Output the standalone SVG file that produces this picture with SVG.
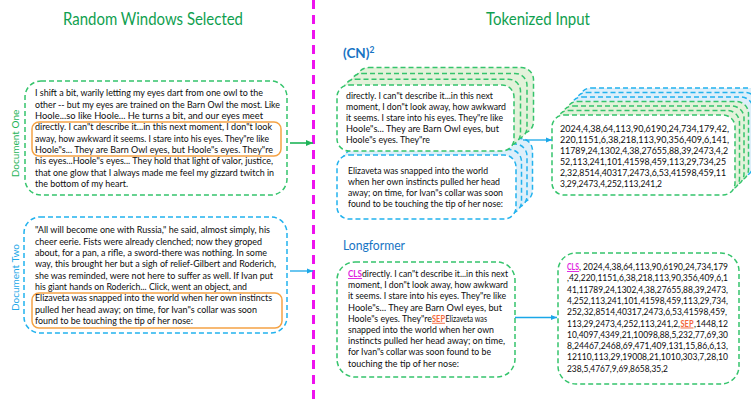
<svg xmlns="http://www.w3.org/2000/svg" width="751" height="405" viewBox="0 0 751 405">
<style>
.t{font-family:Lato,"Liberation Sans",sans-serif;font-size:9.8px;fill:#0d0d0d}
.n{font-family:Lato,"Liberation Sans",sans-serif;font-size:9.2px;fill:#0d0d0d}
.ttl{font-family:Lato,"Liberation Sans",sans-serif;font-size:17.5px;fill:#0FA04F}
.lbl{font-family:Lato,"Liberation Sans",sans-serif;font-size:13.5px;fill:#1874C4}
.doc{font-family:Lato,"Liberation Sans",sans-serif;font-size:10px}
.gb{fill:#fff;stroke:#35C46C;stroke-width:1.5;stroke-dasharray:5 3}
.gbk{fill:#E3F2DA;stroke:#35C46C;stroke-width:1.5;stroke-dasharray:5 3}
.bb{fill:#fff;stroke:#22B2EE;stroke-width:1.5;stroke-dasharray:5 3}
.bbk{fill:#DDEFFA;stroke:#22B2EE;stroke-width:1.5;stroke-dasharray:5 3}
.or{fill:none;stroke:#F5A345;stroke-width:1.5}
.cls{font-family:Lato,"Liberation Sans",sans-serif;font-size:9.3px;fill:#E01FE0;font-weight:bold;text-decoration:underline}
.sep{font-family:Lato,"Liberation Sans",sans-serif;font-size:9.3px;fill:#F2683C;font-weight:bold;text-decoration:underline}
.ag{stroke:#1FB458;stroke-width:1.6;fill:none}
.ab{stroke:#1AA7E8;stroke-width:1.3;fill:none}
</style>
<defs>
<marker id="mg" markerUnits="userSpaceOnUse" markerWidth="7" markerHeight="6" refX="7" refY="3" orient="auto"><path d="M0,0 L7,3 L0,6 z" fill="#1FB458"/></marker>
<marker id="mb" markerUnits="userSpaceOnUse" markerWidth="6" markerHeight="6" refX="6" refY="3" orient="auto"><path d="M0,0.5 L6,3 L0,5.5 z" fill="#1AA7E8"/></marker>
</defs>
<rect width="751" height="405" fill="#fff"/>

<g id="title-left"><text class="ttl" x="63" y="25" textLength="180" lengthAdjust="spacingAndGlyphs">Random Windows Selected</text></g>
<g id="title-right"><text class="ttl" x="486" y="25" textLength="104" lengthAdjust="spacingAndGlyphs">Tokenized Input</text></g>

<g id="divider"><line x1="313.5" y1="0" x2="313.5" y2="405" stroke="#EE12EE" stroke-width="3" stroke-dasharray="9 6"/></g>

<g id="doc-one">
<rect class="gb" x="25" y="81" width="262" height="114" rx="16"/>
<rect class="or" x="32" y="122" width="249" height="34" rx="7"/>
<text class="doc" fill="#1FB458" transform="translate(18.5,143.5) rotate(-90)" text-anchor="middle">Document One</text>
<text class="t" x="35" y="96.3" textLength="228" lengthAdjust="spacingAndGlyphs">I shift a bit, warily letting my eyes dart from one owl to the</text>
<text class="t" x="35" y="107.6" textLength="245" lengthAdjust="spacingAndGlyphs">other -- but my eyes are trained on the Barn Owl the most. Like</text>
<text class="t" x="35" y="119" textLength="228" lengthAdjust="spacingAndGlyphs">Hoole...so like Hoole... He turns a bit, and our eyes meet</text>
<text class="t" x="35" y="130.3" textLength="237" lengthAdjust="spacingAndGlyphs">directly. I can"t describe it...in this next moment, I don"t look</text>
<text class="t" x="35" y="141.7" textLength="234" lengthAdjust="spacingAndGlyphs">away, how awkward it seems. I stare into his eyes. They"re like</text>
<text class="t" x="35" y="153" textLength="238" lengthAdjust="spacingAndGlyphs">Hoole"s... They are Barn Owl eyes, but Hoole"s eyes. They"re</text>
<text class="t" x="35" y="164.4" textLength="238" lengthAdjust="spacingAndGlyphs">his eyes...Hoole"s eyes... They hold that light of valor, justice,</text>
<text class="t" x="35" y="175.7" textLength="239" lengthAdjust="spacingAndGlyphs">that one glow that I always made me feel my gizzard twitch in</text>
<text class="t" x="35" y="187.1" textLength="93" lengthAdjust="spacingAndGlyphs">the bottom of my heart.</text>
</g>

<g id="doc-two">
<rect class="bb" x="24" y="217" width="263" height="116" rx="16"/>
<rect class="or" x="32" y="293" width="250" height="35" rx="7"/>
<text class="doc" fill="#22A8E8" transform="translate(18.5,277.5) rotate(-90)" text-anchor="middle">Document Two</text>
<text class="t" x="35" y="233.2" textLength="235" lengthAdjust="spacingAndGlyphs">"All will become one with Russia," he said, almost simply, his</text>
<text class="t" x="35" y="244.5" textLength="227" lengthAdjust="spacingAndGlyphs">cheer eerie. Fists were already clenched; now they groped</text>
<text class="t" x="35" y="255.9" textLength="232" lengthAdjust="spacingAndGlyphs">about, for a pan, a rifle, a sword-there was nothing. In some</text>
<text class="t" x="35" y="267.2" textLength="241" lengthAdjust="spacingAndGlyphs">way, this brought her but a sigh of relief-Gilbert and Roderich,</text>
<text class="t" x="35" y="278.6" textLength="238" lengthAdjust="spacingAndGlyphs">she was reminded, were not here to suffer as well. If Ivan put</text>
<text class="t" x="35" y="289.9" textLength="212" lengthAdjust="spacingAndGlyphs">his giant hands on Roderich... Click, went an object, and</text>
<text class="t" x="35" y="301.3" textLength="237" lengthAdjust="spacingAndGlyphs">Elizaveta was snapped into the world when her own instincts</text>
<text class="t" x="35" y="312.6" textLength="222" lengthAdjust="spacingAndGlyphs">pulled her head away; on time, for Ivan"s collar was soon</text>
<text class="t" x="35" y="324" textLength="158" lengthAdjust="spacingAndGlyphs">found to be touching the tip of her nose:</text>
</g>

<g id="cn2-label"><text class="lbl" x="343" y="58" font-weight="bold">(CN)<tspan font-size="8.5" dy="-5">2</tspan></text></g>

<g id="cn2-window-two">
<rect class="bbk" x="353.5" y="138.5" width="179" height="64" rx="12"/>
<rect class="bbk" x="348" y="144" width="179" height="64" rx="12"/>
<rect class="bbk" x="342.5" y="149.5" width="179" height="64" rx="12"/>
<rect class="bb" x="337" y="155" width="179" height="64" rx="12"/>
<text class="t" x="348" y="173.6" textLength="140" lengthAdjust="spacingAndGlyphs">Elizaveta was snapped into the world</text>
<text class="t" x="348" y="184.8" textLength="152" lengthAdjust="spacingAndGlyphs">when her own instincts pulled her head</text>
<text class="t" x="348" y="196" textLength="155" lengthAdjust="spacingAndGlyphs">away; on time, for Ivan"s collar was soon</text>
<text class="t" x="348" y="207.2" textLength="155" lengthAdjust="spacingAndGlyphs">found to be touching the tip of her nose:</text>
</g>

<g id="cn2-window-one">
<rect class="gbk" x="356.5" y="67.6" width="177" height="66" rx="12"/>
<rect class="gbk" x="350" y="73.4" width="177" height="66" rx="12"/>
<rect class="gbk" x="343.5" y="79.2" width="177" height="66" rx="12"/>
<rect class="gb" x="337" y="85" width="177" height="66" rx="12"/>
<text class="t" x="346" y="98.5" textLength="147" lengthAdjust="spacingAndGlyphs">directly. I can"t describe it...in this next</text>
<text class="t" x="346" y="109.7" textLength="160" lengthAdjust="spacingAndGlyphs">moment, I don"t look away, how awkward</text>
<text class="t" x="346" y="120.9" textLength="157" lengthAdjust="spacingAndGlyphs">it seems. I stare into his eyes. They"re like</text>
<text class="t" x="346" y="132.1" textLength="153" lengthAdjust="spacingAndGlyphs">Hoole"s... They are Barn Owl eyes, but</text>
<text class="t" x="346" y="143.3" textLength="84" lengthAdjust="spacingAndGlyphs">Hoole"s eyes. They"re</text>
</g>

<g id="cn2-tokens">
<rect class="bbk" x="579" y="88" width="183" height="80" rx="12"/>
<rect class="bbk" x="574.5" y="92.5" width="183" height="80" rx="12"/>
<rect class="bbk" x="570" y="97" width="183" height="80" rx="12"/>
<rect class="gbk" x="565.5" y="101.5" width="183" height="80" rx="12"/>
<rect class="gbk" x="561" y="106" width="183" height="80" rx="12"/>
<rect class="gbk" x="556.5" y="110.5" width="183" height="80" rx="12"/>
<rect class="gb" x="552" y="115" width="183" height="80" rx="12"/>
<text class="n" x="560" y="131.6" textLength="169" lengthAdjust="spacingAndGlyphs">2024,4,38,64,113,90,6190,24,734,179,42,</text>
<text class="n" x="560" y="142.6" textLength="169" lengthAdjust="spacingAndGlyphs">220,1151,6,38,218,113,90,356,409,6,141,</text>
<text class="n" x="560" y="153.6" textLength="168" lengthAdjust="spacingAndGlyphs">11789,24,1302,4,38,27655,88,39,2473,4,2</text>
<text class="n" x="560" y="164.6" textLength="166" lengthAdjust="spacingAndGlyphs">52,113,241,101,41598,459,113,29,734,25</text>
<text class="n" x="560" y="175.6" textLength="166" lengthAdjust="spacingAndGlyphs">2,32,8514,40317,2473,6,53,41598,459,11</text>
<text class="n" x="560" y="186.6" textLength="102" lengthAdjust="spacingAndGlyphs">3,29,2473,4,252,113,241,2</text>
</g>

<g id="longformer-label"><text class="lbl" x="343" y="250" textLength="62" lengthAdjust="spacingAndGlyphs">Longformer</text></g>

<g id="longformer-text">
<rect class="gb" x="337" y="262" width="178" height="115" rx="18"/>
<text class="cls" x="348" y="277" textLength="14" lengthAdjust="spacingAndGlyphs">CLS</text>
<text class="t" x="362" y="277" textLength="146" lengthAdjust="spacingAndGlyphs">directly. I can"t describe it...in this next</text>
<text class="t" x="348" y="288.2" textLength="160" lengthAdjust="spacingAndGlyphs">moment, I don"t look away, how awkward</text>
<text class="t" x="348" y="299.4" textLength="158" lengthAdjust="spacingAndGlyphs">it seems. I stare into his eyes. They"re like</text>
<text class="t" x="348" y="310.6" textLength="154" lengthAdjust="spacingAndGlyphs">Hoole"s... They are Barn Owl eyes, but</text>
<text class="t" x="348" y="321.8" textLength="84" lengthAdjust="spacingAndGlyphs">Hoole"s eyes. They"re</text>
<text class="sep" x="432" y="321.8" textLength="13" lengthAdjust="spacingAndGlyphs">SEP</text>
<text class="t" x="445.5" y="321.8" textLength="41.5" lengthAdjust="spacingAndGlyphs">Elizaveta was</text>
<text class="t" x="348" y="333" textLength="146" lengthAdjust="spacingAndGlyphs">snapped into the world when her own</text>
<text class="t" x="348" y="344.2" textLength="157" lengthAdjust="spacingAndGlyphs">instincts pulled her head away; on time,</text>
<text class="t" x="348" y="355.4" textLength="143" lengthAdjust="spacingAndGlyphs">for Ivan"s collar was soon found to be</text>
<text class="t" x="348" y="366.6" textLength="111" lengthAdjust="spacingAndGlyphs">touching the tip of her nose:</text>
</g>

<g id="longformer-tokens">
<rect class="gb" x="558" y="253" width="181" height="131" rx="18"/>
<text class="cls" x="567" y="270" textLength="12" lengthAdjust="spacingAndGlyphs">CLS</text>
<text class="n" x="579" y="270" textLength="149" lengthAdjust="spacingAndGlyphs">, 2024,4,38,64,113,90,6190,24,734,179</text>
<text class="n" x="567" y="281.3" textLength="161" lengthAdjust="spacingAndGlyphs">,42,220,1151,6,38,218,113,90,356,409,6,1</text>
<text class="n" x="567" y="292.6" textLength="161" lengthAdjust="spacingAndGlyphs">41,11789,24,1302,4,38,27655,88,39,2473,</text>
<text class="n" x="567" y="303.9" textLength="161" lengthAdjust="spacingAndGlyphs">4,252,113,241,101,41598,459,113,29,734,</text>
<text class="n" x="567" y="315.2" textLength="160" lengthAdjust="spacingAndGlyphs">252,32,8514,40317,2473,6,53,41598,459,</text>
<text class="n" x="567" y="326.5" textLength="113" lengthAdjust="spacingAndGlyphs">113,29,2473,4,252,113,241,2,</text>
<text class="sep" x="680.5" y="326.5" textLength="13" lengthAdjust="spacingAndGlyphs">SEP</text>
<text class="n" x="694" y="326.5" textLength="34" lengthAdjust="spacingAndGlyphs">,1448,12</text>
<text class="n" x="567" y="337.8" textLength="161" lengthAdjust="spacingAndGlyphs">10,4097,4349,21,10098,88,5,232,77,69,30</text>
<text class="n" x="567" y="349.1" textLength="161" lengthAdjust="spacingAndGlyphs">8,24467,2468,69,471,409,131,15,86,6,13,</text>
<text class="n" x="567" y="360.4" textLength="161" lengthAdjust="spacingAndGlyphs">12110,113,29,19008,21,1010,303,7,28,10</text>
<text class="n" x="567" y="371.7" textLength="101" lengthAdjust="spacingAndGlyphs">238,5,4767,9,69,8658,35,2</text>
</g>

<g id="connectors">
<line class="ag" x1="290" y1="143" x2="313" y2="143" marker-end="url(#mg)"/>
<line class="ab" x1="290" y1="271" x2="313" y2="271" marker-end="url(#mb)"/>
<line class="ab" x1="523" y1="140" x2="552" y2="140" marker-end="url(#mb)"/>
<line class="ab" x1="515" y1="317.5" x2="557" y2="317.5" marker-end="url(#mb)"/>
</g>
</svg>
